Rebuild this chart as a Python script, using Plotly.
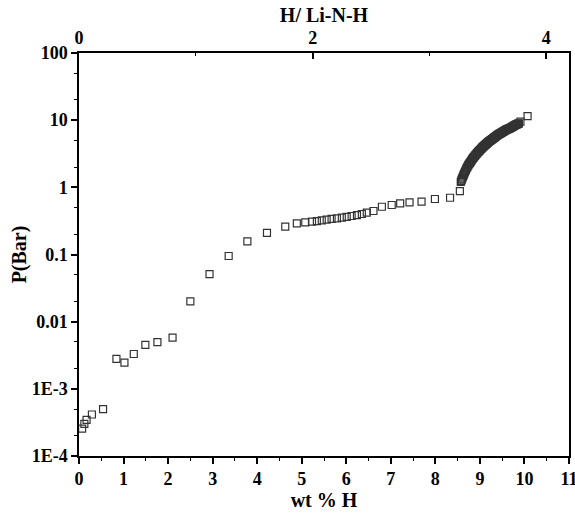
import plotly.graph_objects as go

# ---- data ----
wt_low = [0.07, 0.12, 0.17, 0.29, 0.54, 0.84, 1.02, 1.23, 1.49, 1.76, 2.10, 2.50,
          2.93, 3.36, 3.78, 4.22, 4.63]
p_low = [2.55e-4, 3.0e-4, 3.45e-4, 4.15e-4, 5.0e-4, 2.8e-3, 2.45e-3, 3.3e-3, 4.5e-3,
         4.95e-3, 5.8e-3, 0.020, 0.051, 0.095, 0.157, 0.21, 0.26]

wt_mid = [4.89, 5.08, 5.23, 5.34, 5.45, 5.56, 5.67, 5.79, 5.90, 6.01, 6.12, 6.24,
          6.35, 6.46, 6.61, 6.80, 7.02, 7.21, 7.42, 7.69, 7.99, 8.33, 8.55]
p_mid = [0.291, 0.301, 0.308, 0.315, 0.323, 0.330, 0.338, 0.346, 0.353, 0.362, 0.374,
         0.387, 0.401, 0.419, 0.444, 0.514, 0.546, 0.578, 0.598, 0.611, 0.67, 0.70, 0.88]

wt_high = [8.57, 8.59, 8.61, 8.63, 8.65, 8.675, 8.70, 8.725, 8.75, 8.775, 8.80, 8.825,
           8.85, 8.875, 8.90, 8.925, 8.95, 8.975, 9.00, 9.025, 9.05, 9.075, 9.10,
           9.125, 9.15, 9.175, 9.20, 9.225, 9.25, 9.275, 9.30, 9.325, 9.35, 9.375,
           9.40, 9.425, 9.45, 9.475, 9.50, 9.525, 9.55, 9.575, 9.60, 9.625, 9.65,
           9.675, 9.70, 9.725, 9.75, 9.775, 9.80, 9.825, 9.85, 9.875, 9.91, 10.07]
p_high = [1.20, 1.30, 1.40, 1.51, 1.62, 1.76, 1.91, 2.05, 2.19, 2.32, 2.45, 2.60,
          2.75, 2.88, 3.02, 3.16, 3.31, 3.45, 3.59, 3.74, 3.89, 4.03, 4.17, 4.32,
          4.47, 4.63, 4.79, 4.93, 5.07, 5.22, 5.37, 5.53, 5.69, 5.86, 6.03, 6.17,
          6.31, 6.46, 6.61, 6.76, 6.92, 7.08, 7.24, 7.37, 7.50, 7.63, 7.76, 7.95,
          8.13, 8.32, 8.51, 8.66, 8.81, 8.95, 9.5, 11.5]

wt_high2 = [8.58, 8.60, 8.62, 8.64, 8.6625, 8.6875, 8.7125, 8.7375, 8.7625, 8.7875,
            8.8125, 8.8375, 8.8625, 8.8875, 8.9125, 8.9375, 8.9625, 8.9875, 9.0125,
            9.0375, 9.0625, 9.0875, 9.1125, 9.1375, 9.1625, 9.1875, 9.2125, 9.2375,
            9.2625, 9.2875, 9.3125, 9.3375, 9.3625, 9.3875, 9.4125, 9.4375, 9.4625,
            9.4875, 9.5125, 9.5375, 9.5625, 9.5875, 9.6125, 9.6375, 9.6625, 9.6875,
            9.7125, 9.7375, 9.7625, 9.7875, 9.8125, 9.8375, 9.8625]
p_high2 = [1.25, 1.35, 1.45, 1.56, 1.69, 1.83, 1.98, 2.12, 2.25, 2.38, 2.52, 2.67,
           2.81, 2.95, 3.09, 3.23, 3.38, 3.52, 3.66, 3.81, 3.96, 4.10, 4.24, 4.39,
           4.55, 4.71, 4.86, 5.00, 5.14, 5.29, 5.45, 5.61, 5.77, 5.94, 6.10, 6.24,
           6.38, 6.53, 6.68, 6.84, 7.00, 7.16, 7.30, 7.43, 7.56, 7.69, 7.85, 8.04,
           8.22, 8.41, 8.58, 8.73, 8.88]

x_tickvals = [0, 1, 2, 3, 4, 5, 6, 7, 8, 9, 10, 11]
x_ticktext = ["0", "1", "2", "3", "4", "5", "6", "7", "8", "9", "10", "11"]
y_tickvals = [1e-4, 1e-3, 1e-2, 1e-1, 1, 10, 100]
y_ticktext = ["1E-4", "1E-3", "0.01", "0.1", "1", "10", "100"]
top_tickvals = [0, 2, 4]
top_ticktext = ["0", "2", "4"]

x_all = wt_low + wt_mid + wt_high + wt_high2
p_all = p_low + p_mid + p_high + p_high2

FONT = "Liberation Serif"
tickfont = dict(family=FONT, size=18, color="black")
titlefont = dict(family=FONT, size=20, color="black")


def b(labels):
    return ["<b>%s</b>" % s for s in labels]


fig = go.Figure()
fig.add_trace(go.Scatter(
    x=x_all, y=p_all, mode="markers",
    marker=dict(symbol="square-open", size=7, color="#333333", line=dict(width=1.2)),
    showlegend=False, hoverinfo="x+y"))
# invisible trace so the top axis is built
fig.add_trace(go.Scatter(x=[0], y=[None], xaxis="x2", mode="markers",
                         showlegend=False, hoverinfo="skip"))

fig.update_layout(
    width=575, height=513,
    margin=dict(l=79, r=6, t=53, b=57, autoexpand=False),
    paper_bgcolor="white", plot_bgcolor="white",
    xaxis=dict(
        range=[0, 11], tickvals=x_tickvals, ticktext=b(x_ticktext),
        ticklabeloverflow="allow", automargin=False,
        showgrid=False, zeroline=False,
        showline=True, linecolor="black", linewidth=1.5,
        ticks="outside", ticklen=6, tickwidth=1.5, tickcolor="black",
        minor=dict(tickvals=[v + 0.5 for v in x_tickvals[:-1]], ticks="outside",
                   ticklen=3, tickwidth=1.2, tickcolor="black"),
        tickfont=tickfont,
        title=dict(text="<b>wt % H</b>", font=titlefont, standoff=0),
    ),
    xaxis2=dict(
        overlaying="x", side="top", range=[0, 11 / 2.623], automargin=False,
        tickvals=top_tickvals, ticktext=b(top_ticktext),
        showgrid=False, zeroline=False,
        showline=True, linecolor="black", linewidth=1.5,
        ticks="inside", ticklen=6, tickwidth=1.5, tickcolor="black",
        minor=dict(tickvals=[1, 3], ticks="inside", ticklen=3, tickwidth=1.2, tickcolor="black"),
        tickfont=tickfont,
        title=dict(text="<b>H/ Li-N-H</b>", font=titlefont, standoff=0),
    ),
    yaxis=dict(
        type="log", range=[-4, 2], automargin=False,
        tickvals=y_tickvals, ticktext=b(y_ticktext),
        showgrid=False, zeroline=False,
        showline=True, linecolor="black", linewidth=1.5, mirror=True,
        ticks="outside", ticklen=6, tickwidth=1.5, tickcolor="black",
        minor=dict(ticks="outside", ticklen=3, tickwidth=1, tickcolor="black"),
        tickfont=tickfont,
        title=dict(text="<b>P(Bar)</b>", font=titlefont, standoff=0),
    ),
)

fig.write_html("out.html")
